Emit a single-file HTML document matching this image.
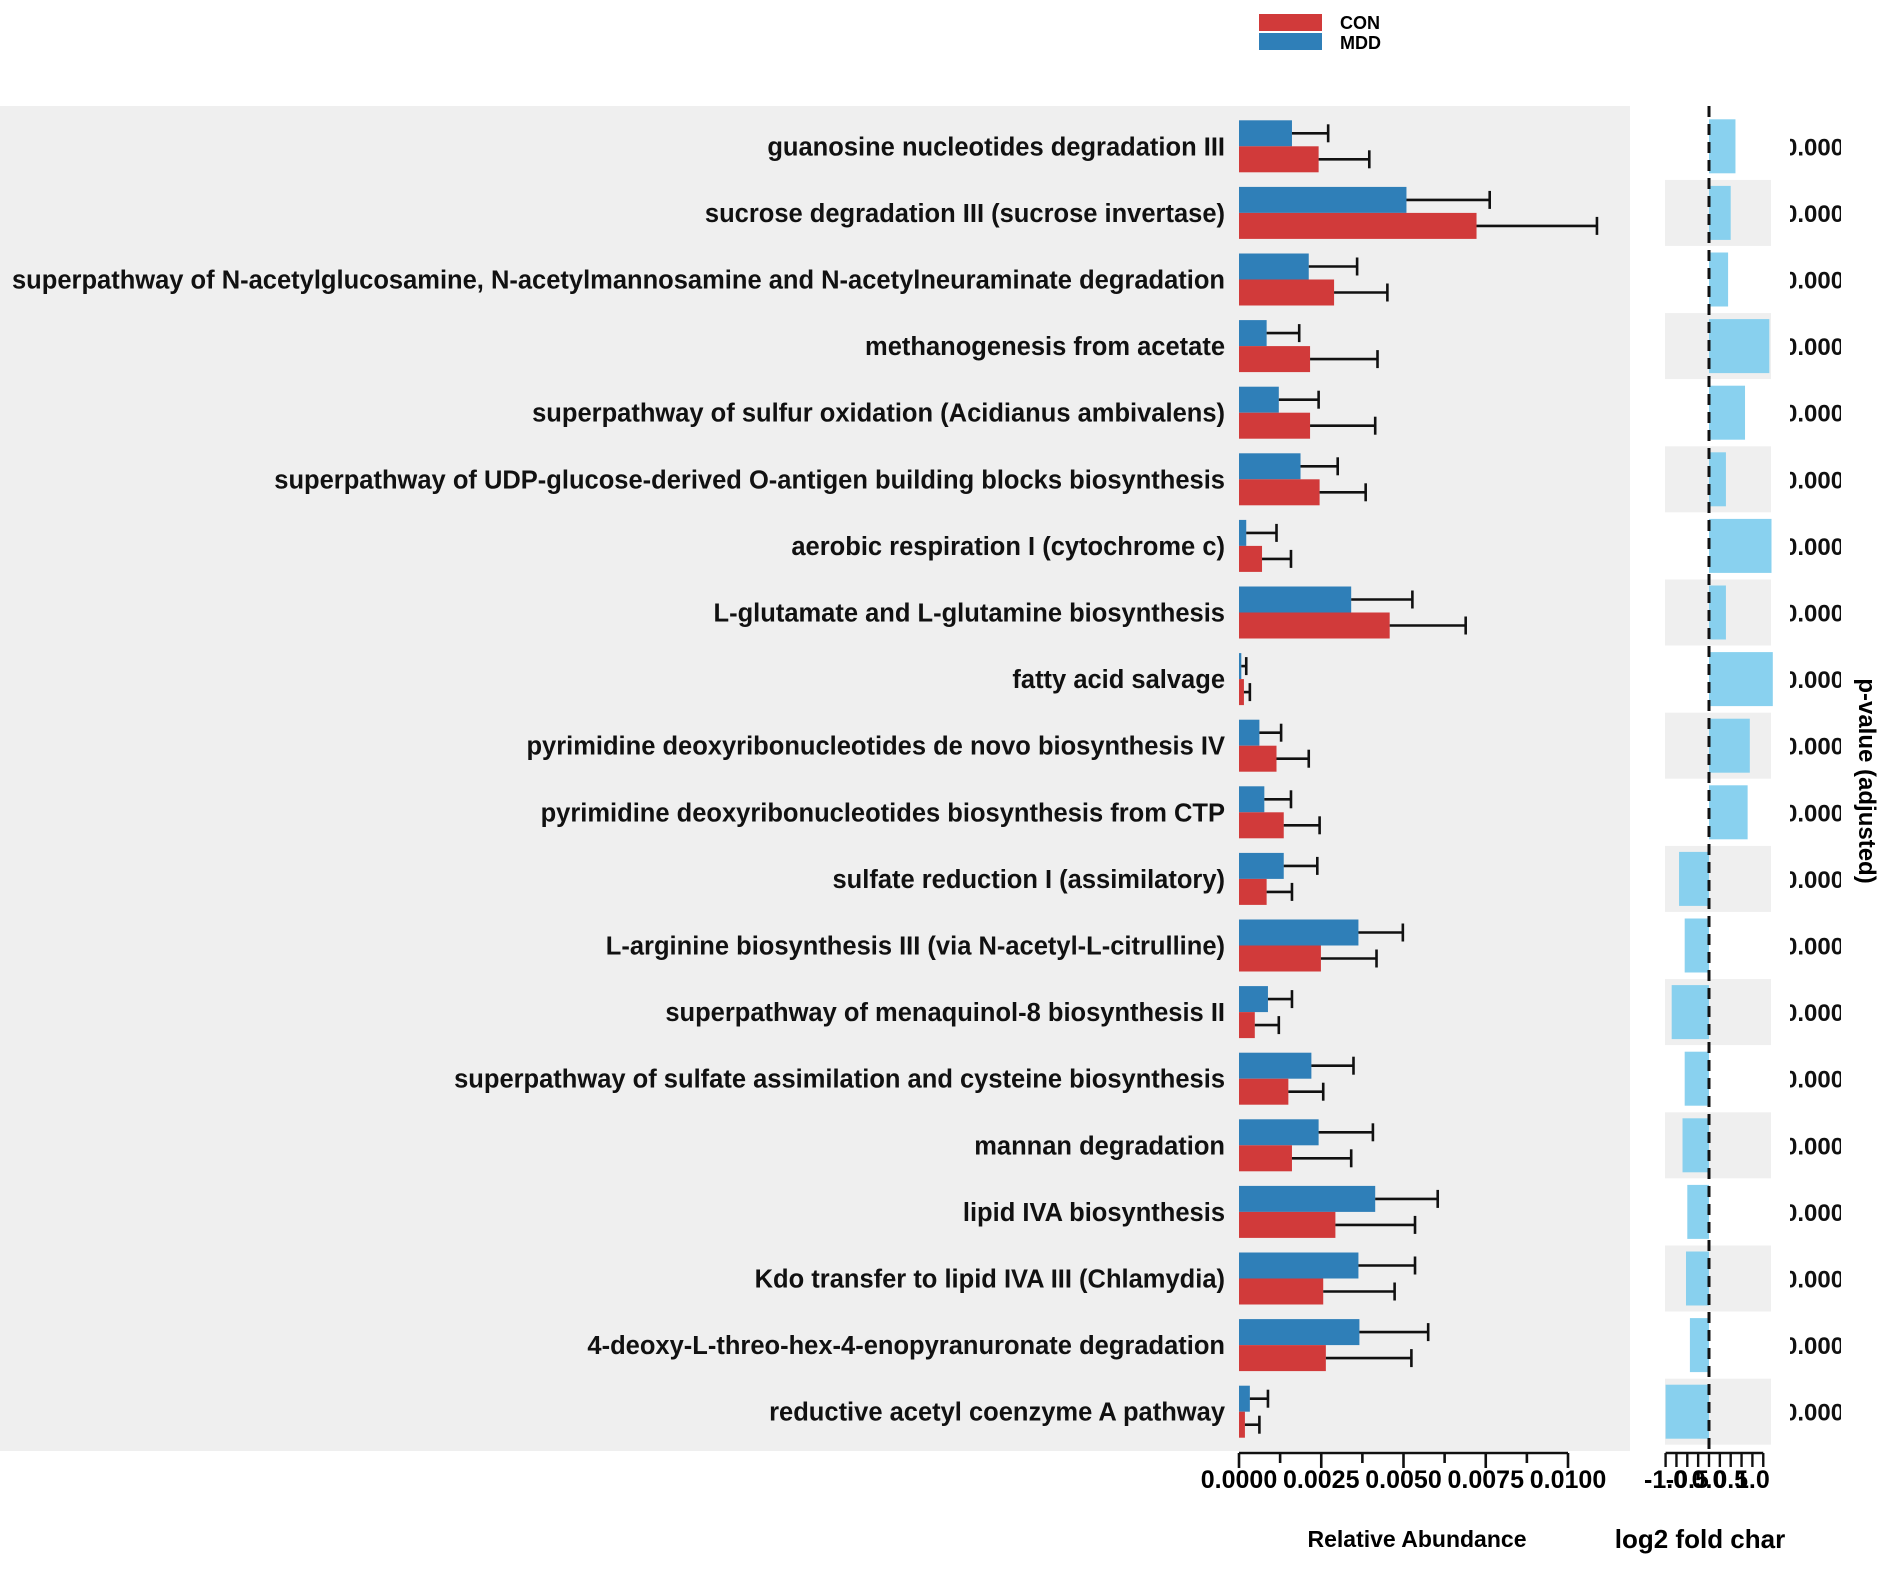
<!DOCTYPE html>
<html><head><meta charset="utf-8"><style>
body{margin:0;background:#fff;}
svg{display:block;font-family:"Liberation Sans",Arial,sans-serif;font-weight:bold;}
</style></head><body>
<svg id="chart" width="1890" height="1570" viewBox="0 0 1890 1570" xmlns="http://www.w3.org/2000/svg">
<rect x="0" y="106" width="1630" height="1345" fill="#efefef"/>
<g>
<rect x="1259" y="14" width="63" height="17" fill="#d13a3a"/>
<rect x="1259" y="33" width="63" height="17" fill="#2f7fb8"/>
<text x="1340" y="29" font-size="18">CON</text>
<text x="1340" y="49" font-size="18">MDD</text>
</g>
<defs><clipPath id="pclip"><rect x="1790" y="100" width="51" height="1360"/></clipPath></defs>
<g id="stripes"></g><g id="bars"></g><g id="labels"></g><g id="fc"></g><g id="pv" clip-path="url(#pclip)"></g><g id="axes"></g>
<text x="1417" y="1547" font-size="23" text-anchor="middle">Relative Abundance</text>
<text x="1700" y="1548" font-size="26" text-anchor="middle">log2 fold char</text>
<text transform="translate(1859,781) rotate(90)" font-size="24" text-anchor="middle">p-value (adjusted)</text>
</svg>
<script>
const pathways=["guanosine nucleotides degradation III","sucrose degradation III (sucrose invertase)","superpathway of N-acetylglucosamine, N-acetylmannosamine and N-acetylneuraminate degradation","methanogenesis from acetate","superpathway of sulfur oxidation (Acidianus ambivalens)","superpathway of UDP-glucose-derived O-antigen building blocks biosynthesis","aerobic respiration I (cytochrome c)","L-glutamate and L-glutamine biosynthesis","fatty acid salvage","pyrimidine deoxyribonucleotides de novo biosynthesis IV","pyrimidine deoxyribonucleotides biosynthesis from CTP","sulfate reduction I (assimilatory)","L-arginine biosynthesis III (via N-acetyl-L-citrulline)","superpathway of menaquinol-8 biosynthesis II","superpathway of sulfate assimilation and cysteine biosynthesis","mannan degradation","lipid IVA biosynthesis","Kdo transfer to lipid IVA III (Chlamydia)","4-deoxy-L-threo-hex-4-enopyranuronate degradation","reductive acetyl coenzyme A pathway"];
const mddMean=[0.00161,0.00509,0.00212,0.00084,0.00121,0.00187,0.00022,0.00341,0.00007,0.00062,0.00077,0.00136,0.00363,0.00088,0.00220,0.00242,0.00414,0.00363,0.00366,0.00033];
const mddSd=[0.00110,0.00253,0.00147,0.00099,0.00121,0.00113,0.00092,0.00186,0.00015,0.00066,0.00081,0.00102,0.00135,0.00073,0.00128,0.00165,0.00190,0.00172,0.00209,0.00055];
const conMean=[0.00242,0.00722,0.00289,0.00216,0.00216,0.00245,0.00070,0.00458,0.00015,0.00114,0.00136,0.00084,0.00249,0.00048,0.00150,0.00161,0.00293,0.00256,0.00264,0.00018];
const conSd=[0.00154,0.00366,0.00162,0.00205,0.00198,0.00140,0.00088,0.00231,0.00018,0.00098,0.00109,0.00077,0.00169,0.00073,0.00106,0.00180,0.00242,0.00217,0.00260,0.00044];
const log2fc=[0.61,0.50,0.44,1.39,0.83,0.39,1.44,0.39,1.47,0.94,0.89,-0.69,-0.56,-0.86,-0.56,-0.61,-0.50,-0.53,-0.44,-1.00];
const pvals=["0.000","0.000","0.000","0.000","0.000","0.000","0.000","0.000","0.000","0.000","0.000","0.000","0.000","0.000","0.000","0.000","0.000","0.000","0.000","0.000"];
const abTicks=[0,0.0025,0.005,0.0075,0.01];
const abTickLabels=["0.0000","0.0025","0.0050","0.0075","0.0100"];
const fcTicks=[-1,-0.5,0,0.5,1];
const fcTickLabels=["-1.0","-0.5","0.0","0.5","1.0"];

const NS="http://www.w3.org/2000/svg";
const xA=v=>1239+v*32900;
const xF=v=>1709+v*43.4;
const yC=i=>146.3+66.6*i;
function mk(tag,attrs,parent){const e=document.createElementNS(NS,tag);for(const k in attrs)e.setAttribute(k,attrs[k]);document.getElementById(parent).appendChild(e);return e;}
function errbar(x1,x2,y,parent,name){
  const g=mk('g',{},parent);
  
  
  const l=document.createElementNS(NS,'line');l.setAttribute('x1',x1);l.setAttribute('x2',x2);l.setAttribute('y1',y);l.setAttribute('y2',y);l.setAttribute('stroke','#111');l.setAttribute('stroke-width','2.6');g.appendChild(l);
  const c=document.createElementNS(NS,'line');c.setAttribute('x1',x2);c.setAttribute('x2',x2);c.setAttribute('y1',y-9);c.setAttribute('y2',y+9);c.setAttribute('stroke','#111');c.setAttribute('stroke-width','2.6');g.appendChild(c);
}
pathways.forEach((p,i)=>{
  const c=yC(i);
  if(i%2===1){const s=mk('rect',{x:1665,y:c-33,width:106,height:66,fill:'#efefef'},'stripes');
    
    }
  const bm=mk('rect',{x:xA(0),y:c-26,width:xA(mddMean[i])-xA(0),height:26,fill:'#2f7fb8'},'bars');
  
  
  const bc=mk('rect',{x:xA(0),y:c,width:xA(conMean[i])-xA(0),height:26,fill:'#d13a3a'},'bars');
  
  
  errbar(xA(mddMean[i]),xA(mddMean[i]+mddSd[i]),c-13,'bars','error-bar-mdd');
  errbar(xA(conMean[i]),xA(conMean[i]+conSd[i]),c+13,'bars','error-bar-con');
  const t=mk('text',{x:1225,y:c+9,'font-size':25.5,'text-anchor':'end',fill:'#111'},'labels');
  t.textContent=p;
  
  
  const v=log2fc[i];
  const fb=mk('rect',{x:Math.min(xF(0),xF(v)),y:c-27,width:Math.abs(xF(v)-xF(0)),height:54,fill:'#7fcdee','fill-opacity':0.92},'fc');
  
  
  const pt=mk('text',{x:1784,y:c+9,'font-size':24,fill:'#111'},'pv');
  pt.textContent=pvals[i];
  
  
});
const dl=mk('line',{x1:xF(0),x2:xF(0),y1:106,y2:1451,stroke:'#111','stroke-width':3,'stroke-dasharray':'11 7'},'fc');


const AY=1453;
const ax=mk('line',{x1:xA(0),x2:xA(0.01),y1:AY,y2:AY,stroke:'#111','stroke-width':2.6},'axes');


abTicks.forEach((v,k)=>{
  const tk=mk('line',{x1:xA(v),x2:xA(v),y1:AY,y2:AY+15,stroke:'#111','stroke-width':2.6},'axes');
  
  
  if(k<abTicks.length-1){const m=(v+abTicks[k+1])/2;
    const mt=mk('line',{x1:xA(m),x2:xA(m),y1:AY,y2:AY+10,stroke:'#111','stroke-width':2.6},'axes');
    
    }
  const tl=mk('text',{x:xA(v),y:1488,'font-size':25,'text-anchor':'middle'},'axes');
  tl.textContent=abTickLabels[k];
  
  
});
const fx=mk('line',{x1:xF(-1),x2:xF(1.25),y1:AY,y2:AY,stroke:'#111','stroke-width':2.6},'axes');


for(let v=-1;v<=1.25001;v+=0.25){
  const tk=mk('line',{x1:xF(v),x2:xF(v),y1:AY,y2:AY+14,stroke:'#111','stroke-width':2.4},'axes');
  
  
}
fcTicks.forEach((v,k)=>{
  const tl=mk('text',{x:xF(v),y:1488,'font-size':25,'text-anchor':'middle'},'axes');
  tl.textContent=fcTickLabels[k];
  
  
});
</script>
</body></html>
